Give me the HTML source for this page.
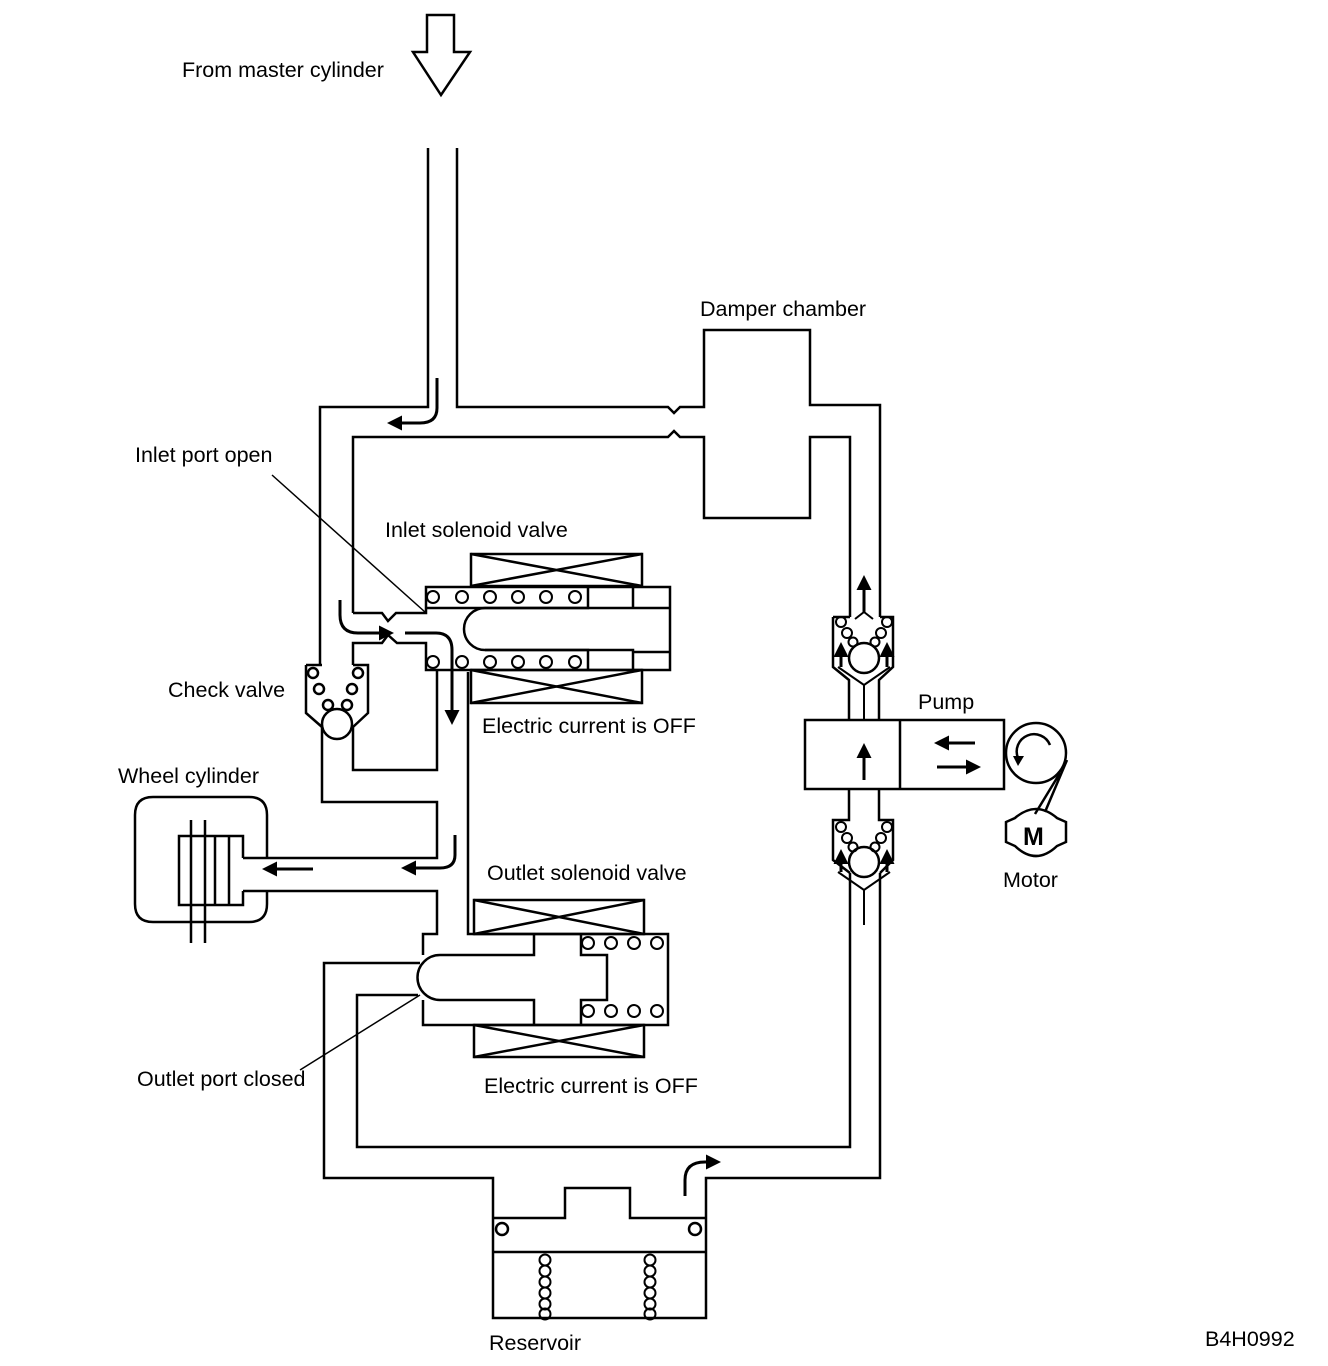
<!DOCTYPE html>
<html><head><meta charset="utf-8"><style>
html,body{margin:0;padding:0;background:#fff}
svg{display:block}
text{font-family:"Liberation Sans",Arial,sans-serif;font-size:21.5px;fill:#000}
</style></head><body>
<svg width="1328" height="1366" viewBox="0 0 1328 1366" xmlns="http://www.w3.org/2000/svg">
<defs>
<marker id="ah" viewBox="0 0 10 10" refX="8" refY="5" markerWidth="5" markerHeight="5" orient="auto-start-reverse"><path d="M0,0 L10,5 L0,10 z" fill="#000"/></marker>
</defs>
<g fill="none" stroke="#000" stroke-width="2.5" stroke-linejoin="miter">
<path d="M427,15 H454 V52 H470 L441,95 L413,52 H427 Z"/>
<path d="M428,148 V407 H320 V665"/>
<path d="M457,148 V407 H668 l6,6 l6,-6 H704 V330 H810 V405 H880 V617"/>
<path d="M353,613 V437 H668 l6,-6 l6,6 H704 V518 H810 V437 H850 V617"/>
<path d="M322,727 V802 H437 V858 H243"/>
<path d="M243,891 H437 V934 H423 V955"/>
<path d="M306,665 V713 L322,727"/>
<path d="M306,665 H322"/>
<path d="M353,665 H368 V713 L353,727 V770 H437 V670"/>
<circle cx="337" cy="724" r="15"/>
<circle cx="313" cy="673" r="5"/><circle cx="358" cy="673" r="5"/>
<circle cx="319" cy="689" r="5"/><circle cx="352" cy="689" r="5"/>
<circle cx="328" cy="705" r="5"/><circle cx="347" cy="705" r="5"/>
<path d="M353,613 H382 L388,621 L396,613 H426 V587 H670 V670 H426 V643 H397 L388,635 L382,643 H353 V665"/>
<path d="M426,608 H588 V587"/>
<path d="M485,650 H588 V670"/>
<path d="M633,608 H485 A21,21 0 0 0 485,650 H633 V670 M633,608 V587 M633,608 H670 M633,652 H670"/>
<rect x="471" y="554" width="171" height="32"/>
<path d="M471,554 L642,586 M642,554 L471,586"/>
<rect x="471" y="670" width="171" height="33"/>
<path d="M471,670 L642,703 M642,670 L471,703"/>
<g stroke-width="2">
<circle cx="433" cy="597" r="6"/><circle cx="462" cy="597" r="6"/><circle cx="490" cy="597" r="6"/><circle cx="518" cy="597" r="6"/><circle cx="546" cy="597" r="6"/><circle cx="575" cy="597" r="6"/>
<circle cx="433" cy="662" r="6"/><circle cx="462" cy="662" r="6"/><circle cx="490" cy="662" r="6"/><circle cx="518" cy="662" r="6"/><circle cx="546" cy="662" r="6"/><circle cx="575" cy="662" r="6"/>
</g>
<path d="M468,672 V934 H668 V1025 H423 V1000"/>
<path d="M534,934 V955 H440 A22,22 0 0 0 440,1000 H534 V1025"/>
<path d="M581,934 V955 H607 V1000 H581 V1025"/>
<rect x="474" y="900" width="170" height="34"/>
<path d="M474,900 L644,934 M644,900 L474,934"/>
<rect x="474" y="1025" width="170" height="32"/>
<path d="M474,1025 L644,1057 M644,1025 L474,1057"/>
<g stroke-width="2">
<circle cx="588" cy="943" r="6"/><circle cx="611" cy="943" r="6"/><circle cx="634" cy="943" r="6"/><circle cx="657" cy="943" r="6"/>
<circle cx="588" cy="1011" r="6"/><circle cx="611" cy="1011" r="6"/><circle cx="634" cy="1011" r="6"/><circle cx="657" cy="1011" r="6"/>
</g>
<path d="M420,963 H324 V1178 H493 V1318 H706 V1178 H880 V873"/>
<path d="M418,995 H357 V1147 H850 V873"/>
<path d="M493,1218 H565 V1188 H630 V1218 H706"/>
<path d="M493,1252 H706"/>
<circle cx="502" cy="1229" r="6"/><circle cx="695" cy="1229" r="6"/>
<g stroke-width="2">
<circle cx="545" cy="1260" r="5.5"/><circle cx="545" cy="1271" r="5.5"/><circle cx="545" cy="1282" r="5.5"/><circle cx="545" cy="1293" r="5.5"/><circle cx="545" cy="1304" r="5.5"/><circle cx="545" cy="1314" r="5.5"/>
<circle cx="650" cy="1260" r="5.5"/><circle cx="650" cy="1271" r="5.5"/><circle cx="650" cy="1282" r="5.5"/><circle cx="650" cy="1293" r="5.5"/><circle cx="650" cy="1304" r="5.5"/><circle cx="650" cy="1314" r="5.5"/>
</g>
<path d="M267,858 V815 Q267,797 249,797 H153 Q135,797 135,815 V904 Q135,922 153,922 H249 Q267,922 267,904 V891"/>
<path d="M243,858 V836 H179 V905 H243 V891"/>
<path d="M215,836 V905 M229,836 V905"/>
<path d="M191,820 V943 M205,820 V943"/>
<path d="M833,617 H850 M880,617 H893 V667 L879,680 V720"/>
<path d="M833,617 V667 L849,680 V720"/>
<rect x="805" y="720" width="199" height="69"/>
<path d="M900,720 V789"/>
<path d="M849,789 V820 H833 V860 L850,873 M879,789 V820 H893 V860 L880,873"/>
<circle cx="864" cy="658" r="15"/>
<circle cx="864" cy="862" r="15"/>
<g stroke-width="2">
<circle cx="841" cy="622" r="5"/><circle cx="847" cy="633" r="5"/><circle cx="853" cy="642" r="4.5"/>
<circle cx="887" cy="622" r="5"/><circle cx="881" cy="633" r="5"/><circle cx="875" cy="642" r="4.5"/>
<circle cx="841" cy="827" r="5"/><circle cx="847" cy="838" r="5"/><circle cx="853" cy="847" r="4.5"/>
<circle cx="887" cy="827" r="5"/><circle cx="881" cy="838" r="5"/><circle cx="875" cy="847" r="4.5"/>
</g>
<path d="M838,667 L864,685 L890,667 M864,685 V720" stroke-width="2"/>
<path d="M838,872 L864,890 L890,872 M864,890 V925" stroke-width="2"/>
<path d="M855,619 L864,612 L873,619" stroke-width="2"/>
</g>
<g fill="none" stroke="#000" stroke-width="3" marker-end="url(#ah)">
<path d="M864,612 V578"/>
<path d="M841,667 V645"/>
<path d="M887,667 V645"/>
<path d="M841,872 V852"/>
<path d="M887,872 V852"/>
<path d="M864,780 V746"/>
<path d="M975,743 H937"/>
<path d="M937,767 H978"/>
<path d="M437,378 V408 Q437,423 420,423 H390"/>
<path d="M340,600 V615 Q340,633 358,633 H391"/>
<path d="M405,633 H436 Q452,633 452,650 V722"/>
<path d="M313,869 H265"/>
<path d="M455,835 V855 Q455,868 440,868 H404"/>
<path d="M685,1196 V1180 Q685,1162 705,1162 H718"/>
</g>
<g stroke="#000" stroke-width="1.5">
<line x1="272" y1="475" x2="425" y2="612"/>
<line x1="300" y1="1070" x2="420" y2="995"/>
</g>
<g fill="none" stroke="#000" stroke-width="2.5">
<circle cx="1036" cy="753" r="30"/>
<path d="M1050,745 A17,17 0 1 0 1018,758"/>
<path d="M1060,773 L1035,814 M1067,760 L1045,812"/>
<path d="M1015,818 Q1036,800 1057,818 L1066,822 V842 L1057,846 Q1036,866 1015,846 L1006,842 V822 Z"/>
</g>
<path d="M1013,756 L1024,756 L1018,766 Z" fill="#000"/>
<text x="1023" y="845" font-weight="bold" style="font-size:25px">M</text>
<text x="182" y="77">From master cylinder</text>
<text x="700" y="316">Damper chamber</text>
<text x="135" y="462">Inlet port open</text>
<text x="385" y="537">Inlet solenoid valve</text>
<text x="168" y="697">Check valve</text>
<text x="482" y="733">Electric current is OFF</text>
<text x="918" y="709">Pump</text>
<text x="118" y="783">Wheel cylinder</text>
<text x="487" y="880">Outlet solenoid valve</text>
<text x="1003" y="887">Motor</text>
<text x="137" y="1086">Outlet port closed</text>
<text x="484" y="1093">Electric current is OFF</text>
<text x="489" y="1350">Reservoir</text>
<text x="1205" y="1346">B4H0992</text>
</svg>
</body></html>
